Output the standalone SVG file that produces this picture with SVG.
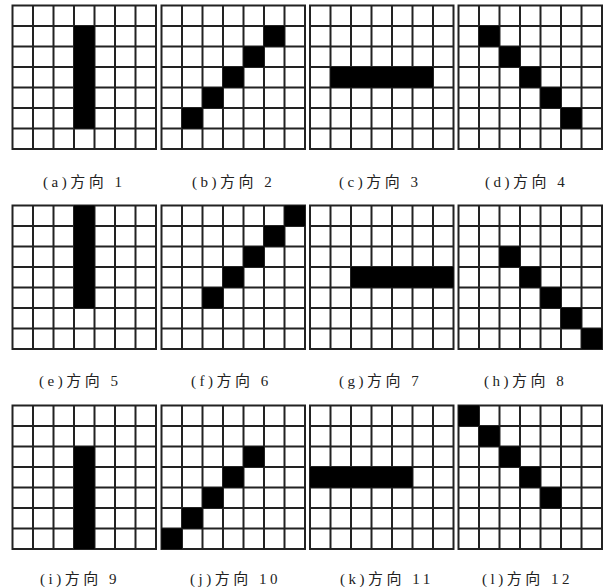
<svg xmlns="http://www.w3.org/2000/svg" xmlns:xlink="http://www.w3.org/1999/xlink" width="613" height="587" viewBox="0 0 613 587">
<style>
.bg{fill:#fff}
.cell{fill:#000}
.gl{fill:none;stroke:#222;stroke-width:2;stroke-linecap:square}
.lbl{font-family:"Liberation Serif","Noto Sans CJK SC",serif;font-size:15px;fill:#222;letter-spacing:3.5px}
</style>
<defs>
<path id="grid" class="gl" d="M0 0V143.5M20.5 0V143.5M41 0V143.5M61.5 0V143.5M82 0V143.5M102.5 0V143.5M123 0V143.5M143.5 0V143.5M0 0H143.5M0 20.5H143.5M0 41H143.5M0 61.5H143.5M0 82H143.5M0 102.5H143.5M0 123H143.5M0 143.5H143.5"/>
<rect id="c" class="cell" width="20.5" height="20.5"/>
</defs>
<rect class="bg" width="613" height="587"/>

<g id="grid-a" transform="translate(12.5,5.5)">
<use xlink:href="#grid"/>
<rect class="cell" x="61.5" y="20.5" width="20.5" height="102.5"/>
</g>
<g id="grid-b" transform="translate(161.5,5.5)">
<use xlink:href="#grid"/>
<use xlink:href="#c" x="20.5" y="102.5"/><use xlink:href="#c" x="41" y="82"/><use xlink:href="#c" x="61.5" y="61.5"/><use xlink:href="#c" x="82" y="41"/><use xlink:href="#c" x="102.5" y="20.5"/>
</g>
<g id="grid-c" transform="translate(310,5.5)">
<use xlink:href="#grid"/>
<rect class="cell" x="20.5" y="61.5" width="102.5" height="20.5"/>
</g>
<g id="grid-d" transform="translate(458.5,5.5)">
<use xlink:href="#grid"/>
<use xlink:href="#c" x="20.5" y="20.5"/><use xlink:href="#c" x="41" y="41"/><use xlink:href="#c" x="61.5" y="61.5"/><use xlink:href="#c" x="82" y="82"/><use xlink:href="#c" x="102.5" y="102.5"/>
</g>

<g id="grid-e" transform="translate(12.5,205.5)">
<use xlink:href="#grid"/>
<rect class="cell" x="61.5" y="0" width="20.5" height="102.5"/>
</g>
<g id="grid-f" transform="translate(161.5,205.5)">
<use xlink:href="#grid"/>
<use xlink:href="#c" x="41" y="82"/><use xlink:href="#c" x="61.5" y="61.5"/><use xlink:href="#c" x="82" y="41"/><use xlink:href="#c" x="102.5" y="20.5"/><use xlink:href="#c" x="123" y="0"/>
</g>
<g id="grid-g" transform="translate(310,205.5)">
<use xlink:href="#grid"/>
<rect class="cell" x="41" y="61.5" width="102.5" height="20.5"/>
</g>
<g id="grid-h" transform="translate(458.5,205.5)">
<use xlink:href="#grid"/>
<use xlink:href="#c" x="41" y="41"/><use xlink:href="#c" x="61.5" y="61.5"/><use xlink:href="#c" x="82" y="82"/><use xlink:href="#c" x="102.5" y="102.5"/><use xlink:href="#c" x="123" y="123"/>
</g>

<g id="grid-i" transform="translate(12.5,405.5)">
<use xlink:href="#grid"/>
<rect class="cell" x="61.5" y="41" width="20.5" height="102.5"/>
</g>
<g id="grid-j" transform="translate(161.5,405.5)">
<use xlink:href="#grid"/>
<use xlink:href="#c" x="0" y="123"/><use xlink:href="#c" x="20.5" y="102.5"/><use xlink:href="#c" x="41" y="82"/><use xlink:href="#c" x="61.5" y="61.5"/><use xlink:href="#c" x="82" y="41"/>
</g>
<g id="grid-k" transform="translate(310,405.5)">
<use xlink:href="#grid"/>
<rect class="cell" x="0" y="61.5" width="102.5" height="20.5"/>
</g>
<g id="grid-l" transform="translate(458.5,405.5)">
<use xlink:href="#grid"/>
<use xlink:href="#c" x="0" y="0"/><use xlink:href="#c" x="20.5" y="20.5"/><use xlink:href="#c" x="41" y="41"/><use xlink:href="#c" x="61.5" y="61.5"/><use xlink:href="#c" x="82" y="82"/>
</g>

<g id="labels" class="lbl" xml:space="preserve">
<text x="43" y="187">(a)方向 1</text>
<text x="192" y="187">(b)方向 2</text>
<text x="339" y="187">(c)方向 3</text>
<text x="485" y="187">(d)方向 4</text>
<text x="39" y="386">(e)方向 5</text>
<text x="191" y="386">(f)方向 6</text>
<text x="339" y="386">(g)方向 7</text>
<text x="484" y="386">(h)方向 8</text>
<text x="40" y="584">(i)方向 9</text>
<text x="190" y="584">(j)方向 10</text>
<text x="340" y="584">(k)方向 11</text>
<text x="482" y="584">(l)方向 12</text>
</g>
</svg>
